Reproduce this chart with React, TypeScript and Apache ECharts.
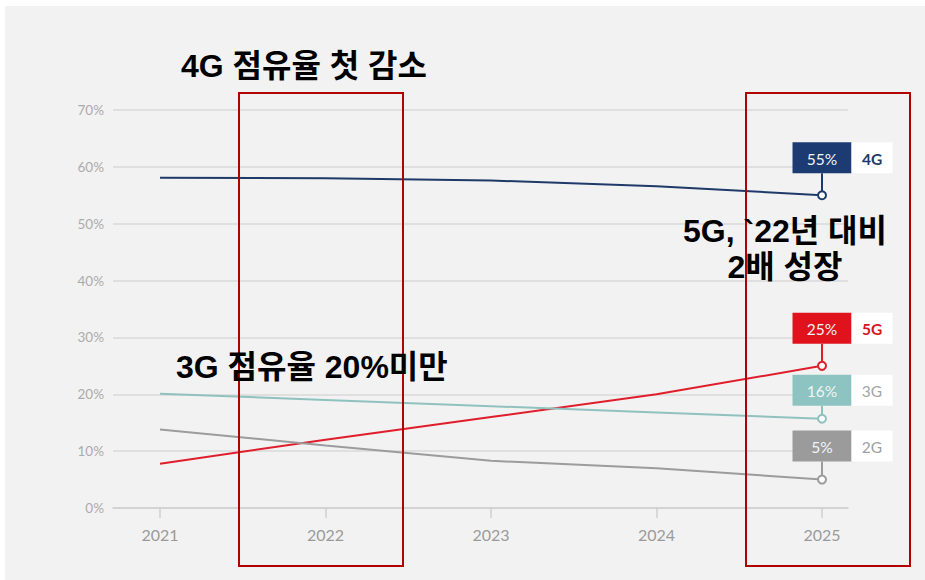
import React, { useEffect, useRef } from "react";
import * as echarts from "echarts";

const years = [2021, 2022, 2023, 2024, 2025];
const share4G = [58.1, 58.0, 57.6, 56.6, 55];
const share5G = [7.8, 12, 16, 20, 25];
const share3G = [20.1, 19.0, 17.9, 16.8, 15.7];
const share2G = [13.8, 11.0, 8.3, 7.0, 5.0];
const yTicks = [0, 10, 20, 30, 40, 50, 60, 70];
const seriesNames = ["4G", "5G", "3G", "2G"];
const annotations = ["4G 점유율 첫 감소", "3G 점유율 20%미만", "5G, `22년 대비", "2배 성장"];

const lineColors: Record<string, string> = { "4G": "#1f3a68", "5G": "#e01e2b", "3G": "#8fc2bf", "2G": "#9c9c9c" };
const boxColors: Record<string, string> = { "4G": "#1c3b72", "5G": "#e0131d", "3G": "#8dc3c0", "2G": "#9b9b9b" };
const nameColors: Record<string, string> = { "4G": "#1f3a68", "5G": "#d8141e", "3G": "#a5a5a5", "2G": "#a0a0a0" };
const gaps: Record<string, number> = { "4G": 22, "5G": 22, "3G": 13, "2G": 18 };

const dataByName: Record<string, number[]> = { "4G": share4G, "5G": share5G, "3G": share3G, "2G": share2G };

const titleFont = '"Liberation Sans", "Noto Sans CJK KR", sans-serif';

export default function App() {
  const ref = useRef<HTMLDivElement>(null);
  useEffect(() => {
    if (!ref.current) return;
    const chart = echarts.init(ref.current, undefined, { renderer: "svg" });
    const lineSeries = seriesNames.map((n) => ({
      type: "line",
      name: n,
      data: years.map((y, i) => [y, dataByName[n][i]]),
      symbol: "none",
      lineStyle: { color: lineColors[n], width: 2 },
      z: 3,
    }));
    const labelSeries = seriesNames.map((n) => ({
      type: "custom",
      name: n + "-label",
      data: [[years[years.length - 1], dataByName[n][dataByName[n].length - 1]]],
      clip: false,
      z: 5,
      renderItem: (params: any, api: any) => {
        const p = api.coord([api.value(0), api.value(1)]);
        const bh = 31;
        const bottom = p[1] - gaps[n];
        const top = bottom - bh;
        const val = Math.round(api.value(1)) + "%";
        return {
          type: "group",
          children: [
            { type: "line", shape: { x1: p[0], y1: p[1], x2: p[0], y2: bottom }, style: { stroke: lineColors[n], lineWidth: 2 } },
            { type: "rect", shape: { x: p[0] - 29.5, y: top, width: 59, height: bh }, style: { fill: boxColors[n] } },
            { type: "rect", shape: { x: p[0] + 29.5, y: top, width: 41, height: bh }, style: { fill: "#ffffff" } },
            {
              type: "text",
              style: { text: val, x: p[0], y: top + bh / 2 + 1, align: "center", verticalAlign: "middle", fill: "#f4f4f4", fontSize: 15.5, fontFamily: "Lato" },
            },
            {
              type: "text",
              style: { text: n, x: p[0] + 50, y: top + bh / 2 + 1, align: "center", verticalAlign: "middle", fill: nameColors[n], fontSize: 15.5, fontFamily: "Lato", fontWeight: n === "4G" || n === "5G" ? "bold" : "normal" },
            },
            { type: "circle", shape: { cx: p[0], cy: p[1], r: 4 }, style: { fill: "#ffffff", stroke: lineColors[n], lineWidth: 2 } },
          ],
        };
      },
    }));
    chart.setOption({
      animation: false,
      backgroundColor: "#ffffff",
      grid: { left: 113, right: 77, top: 110, bottom: 72 },
      xAxis: {
        type: "value",
        min: 2020.716,
        max: 2025.157,
        axisLine: { show: true, lineStyle: { color: "#cfcfcf", width: 1.5 } },
        axisTick: { show: true, customValues: years, length: 10, lineStyle: { color: "#cfcfcf", width: 1.5 } },
        axisLabel: { customValues: years, formatter: (v: number) => String(v), color: "#9a9a9a", fontSize: 16, fontFamily: "Lato", margin: 18 },
        splitLine: { show: false },
      },
      yAxis: {
        type: "value",
        min: 0,
        max: 70,
        interval: 10,
        axisLine: { show: false },
        axisTick: { show: false },
        axisLabel: { formatter: (v: number) => (yTicks.includes(v) ? v + "%" : ""), color: "#ababab", fontSize: 13.5, fontFamily: "Lato", margin: 9 },
        splitLine: { lineStyle: { color: "#d9d9d9", width: 1.5 } },
      },
      graphic: [
        { type: "rect", z: -10, silent: true, shape: { x: 5, y: 6, width: 925, height: 580 }, style: { fill: "#f2f2f2" } },
        { type: "rect", z: 100, shape: { x: 239, y: 93, width: 164, height: 473 }, style: { fill: "none", stroke: "#b00000", lineWidth: 2 } },
        { type: "rect", z: 100, shape: { x: 746, y: 93, width: 164, height: 473 }, style: { fill: "none", stroke: "#b00000", lineWidth: 2 } },
        { type: "text", z: 100, style: { text: annotations[0], x: 181, y: 66, verticalAlign: "middle", fill: "#000", fontSize: 32, fontWeight: "bold", fontFamily: titleFont } },
        { type: "text", z: 100, style: { text: annotations[1], x: 176, y: 367, verticalAlign: "middle", fill: "#000", fontSize: 32, fontWeight: "bold", fontFamily: titleFont } },
        { type: "text", z: 100, style: { text: annotations[2], x: 785, y: 231, align: "center", verticalAlign: "middle", fill: "#000", fontSize: 32, fontWeight: "bold", fontFamily: titleFont } },
        { type: "text", z: 100, style: { text: annotations[3], x: 785, y: 267, align: "center", verticalAlign: "middle", fill: "#000", fontSize: 32, fontWeight: "bold", fontFamily: titleFont } },
      ],
      series: [...lineSeries, ...labelSeries],
    });
    return () => chart.dispose();
  }, []);
  return <div ref={ref} style={{ position: "fixed", left: 0, top: 0, width: 925, height: 580 }} />;
}
